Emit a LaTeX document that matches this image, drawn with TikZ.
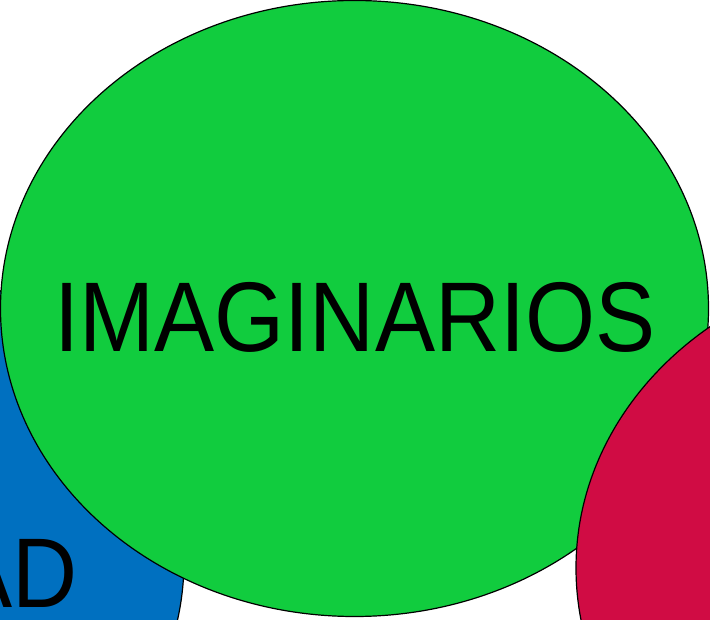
\documentclass[tikz,border=0pt]{standalone}
\usepackage{fontspec}
\setmainfont{Liberation Sans}
\usetikzlibrary{shapes.geometric}

\definecolor{setblue}{RGB}{0,112,192}
\definecolor{setgreen}{RGB}{17,204,62}
\definecolor{setred}{RGB}{208,12,68}

\begin{document}
\begin{tikzpicture}[x=1pt, y=-1pt,
  setshape/.style={ellipse, draw=black, line width=1.2pt,
    minimum width=708pt, minimum height=616pt, inner sep=0pt, outer sep=0pt},
  setlabel/.style={font=\fontsize{99}{99}\selectfont, inner sep=0pt, xscale=0.91, transform shape},
]
\useasboundingbox (0,0) rectangle (710,620);
\begin{scope}
\clip (0,0) rectangle (710,620);

% sets, back to front
\node[setshape, fill=setblue] (blue) at (-170, 561) {};
\node[setlabel, anchor=east] (bluetxt) at (78, 573) {AD};

\node[setshape, fill=setgreen] (green) at (354.5, 308.5) {};
\node[setlabel] (greentxt) at (355, 317.5) {IMAGINARIOS};

\node[setshape, fill=setred] (red) at (930, 568) {};
\end{scope}
\end{tikzpicture}
\end{document}
